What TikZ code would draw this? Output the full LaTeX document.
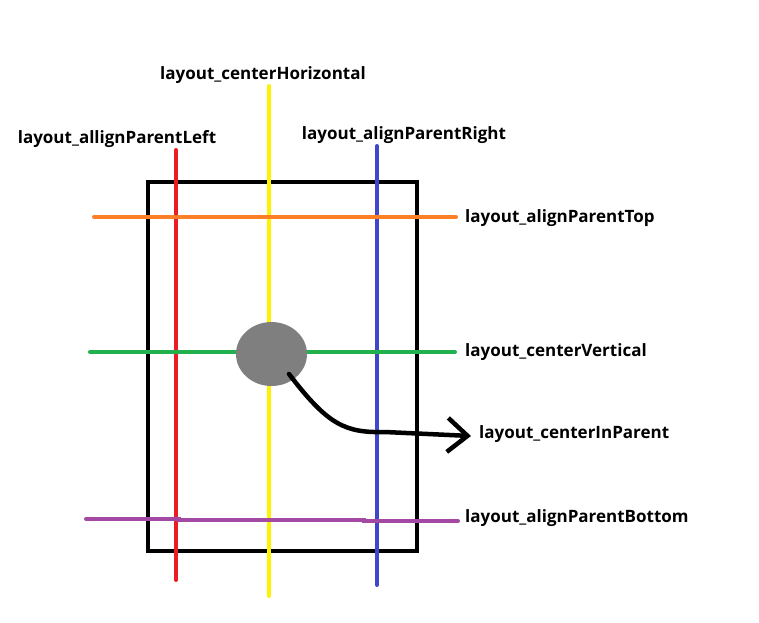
\documentclass[tikz,border=0pt]{standalone}
\usepackage{fontspec}
\setmainfont{Open Sans}
\usetikzlibrary{arrows.meta,shapes.geometric}
\definecolor{pred}{HTML}{ED1C24}
\definecolor{pyellow}{HTML}{FFF200}
\definecolor{pblue}{HTML}{3F48CC}
\definecolor{porange}{HTML}{FF7F27}
\definecolor{pgreen}{HTML}{22B14C}
\definecolor{ppurple}{HTML}{A349A4}
\definecolor{pgray}{HTML}{7F7F7F}
\begin{document}
\begin{tikzpicture}[x=1pt,y=-1pt,
    every node/.style={font=\fontsize{17}{20}\selectfont\bfseries,inner sep=0pt},
    guide/.style={line width=4pt,line cap=round},
    arr/.style={line width=4.5pt,line cap=round,-{Straight Barb[length=20pt,width=34pt]}}]
        \useasboundingbox (0,0) rectangle (759,622);

            \draw[line width=4.5pt] (148,182) rectangle (417,551);

            \draw[guide,pred] (176,150) -- (176,580);
            \draw[guide,pyellow] (269,86) -- (269,596);
            \draw[guide,pblue] (377,146) -- (377,585);

            \draw[guide,porange] (94,217) -- (456,217);
            \draw[guide,pgreen] (90,352) -- (455,352);
            \draw[guide,ppurple] (86,519) -- (179,519) -- (179,520) -- (364,520) -- (364,521) -- (458,521);

            \node (ball) [ellipse,fill=pgray,minimum width=71pt,minimum height=64pt] at (271.5,354) {};

            \node (horiz) at (263,75) {layout\_centerHorizontal};
            \node (left) at (117,139) {layout\_allignParentLeft};
            \node (right) at (404,135) {layout\_alignParentRight};
            \node (top) [anchor=west] at (465,218) {layout\_alignParentTop};
            \node (vert) [anchor=west] at (465,352) {layout\_centerVertical};
            \node (cip) [anchor=west] at (479,434) {layout\_centerInParent};
            \node (bottom) [anchor=west] at (465,518) {layout\_alignParentBottom};

            \coordinate (start) at ([shift={(17.5pt,-20pt)}]ball.center);
            \draw[arr] (start) .. controls (328,425) and (345,433) .. (385,432) -- ([shift={(-8pt,-2pt)}]cip.west);
\end{tikzpicture}
\end{document}
